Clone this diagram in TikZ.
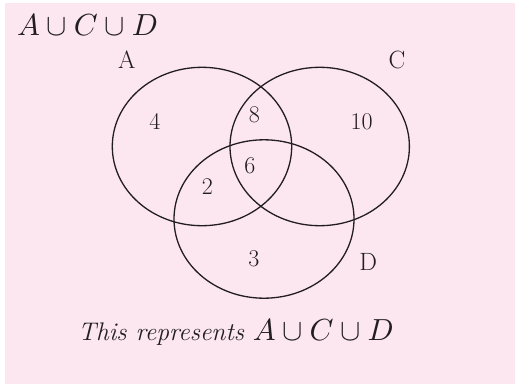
\documentclass[tikz,border=0pt]{standalone}
\usepackage{fontspec}
\usepackage{graphicx}
\definecolor{bgpink}{RGB}{252,231,240}
\definecolor{ink}{RGB}{34,30,32}
\tikzset{
  venn/.style={draw=ink, line width=1.3pt},
  num/.style={text=ink, font=\fontsize{24}{26}\selectfont, inner sep=0pt},
  setlabel/.style={text=ink, font=\fontsize{25}{27}\selectfont, inner sep=0pt},
  caption/.style={text=ink, inner sep=0pt, anchor=west}
}
\newcommand{\unionACD}{\scalebox{3.05}{\normalsize$A\cup C\cup D$}}
\begin{document}
\begin{tikzpicture}[x=1pt,y=1pt]
\useasboundingbox (0,0) rectangle (516,384);
\fill[white] (0,0) rectangle (516,384);
\fill[bgpink] (5,0) rectangle (515,381);
% ellipses
\draw[venn] (202,237.5) ellipse [x radius=89.7, y radius=79.2];
\draw[venn] (319.7,237.5) ellipse [x radius=89.7, y radius=79.2];
\draw[venn] (264,165) ellipse [x radius=90, y radius=79.2];
% numbers
\node[num] (n4) at (155,262.3) {4};
\node[num] (n8) at (254.3,269) {8};
\node[num] (n10) at (361.7,262.3) {10};
\node[num] (n6) at (250,218) {6};
\node[num] (n2) at (207.3,197.3) {2};
\node[num] (n3) at (254,125.7) {3};
% set labels
\node[setlabel] (la) at (126.7,324) {A};
\node[setlabel] (lc) at (397,324) {C};
\node[setlabel] (ld) at (368.3,122.3) {D};
% title and caption
\node[caption] (title) at (17,359) {\unionACD};
\node[caption] (cap) at (78,51) {\fontsize{25.5}{28}\selectfont\itshape This represents \unionACD};
\end{tikzpicture}
\end{document}
